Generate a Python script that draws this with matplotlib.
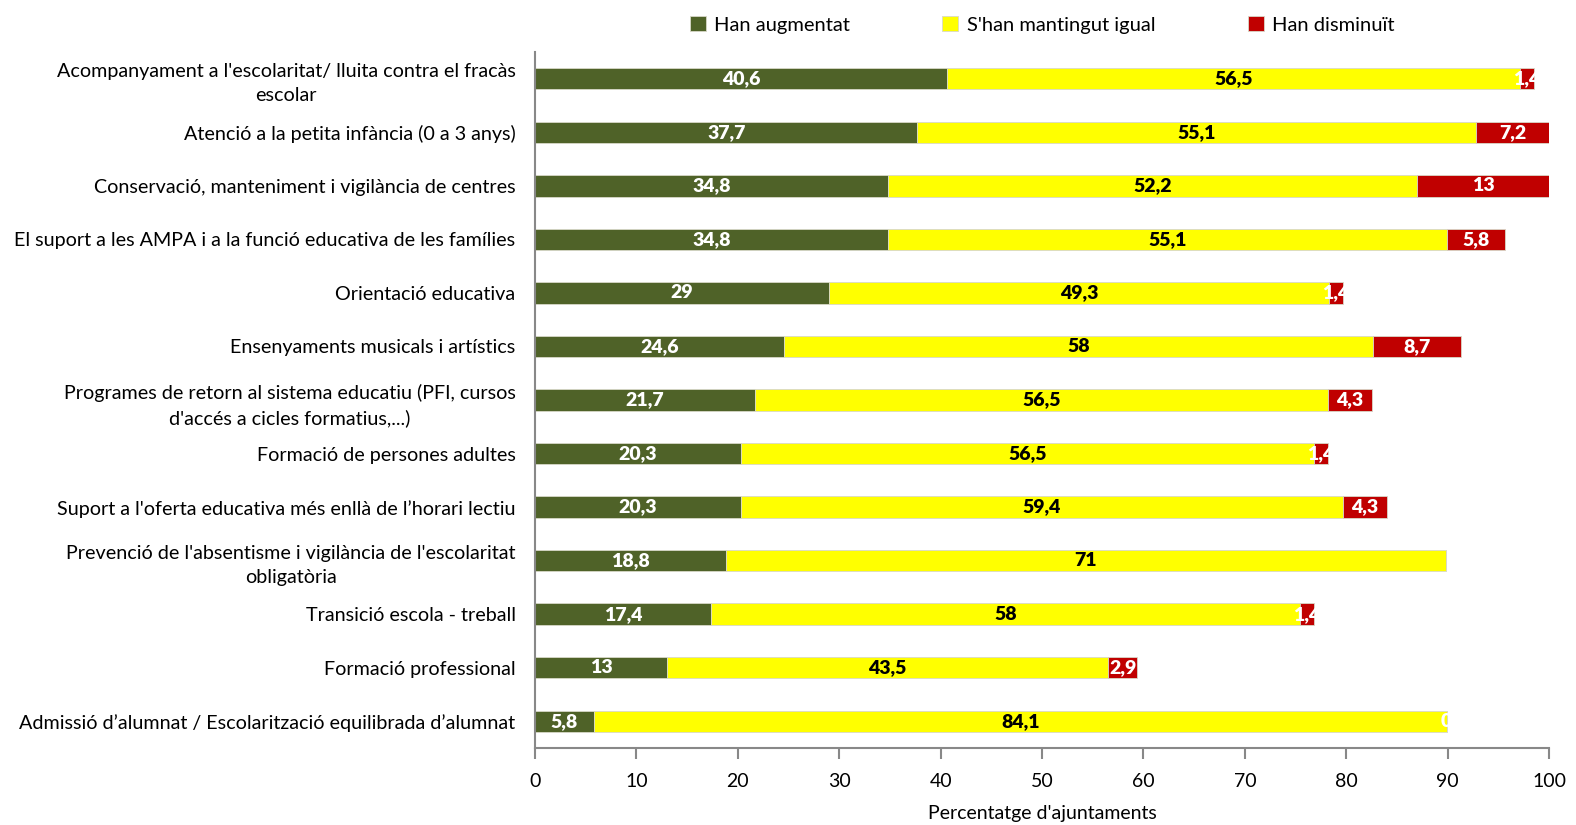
import matplotlib
matplotlib.use("Agg")
import matplotlib.pyplot as plt
import numpy as np

plt.rcParams['font.family'] = ['Lato', 'DejaVu Sans']

categories = [
    "Acompanyament a l'escolaritat/ lluita contra el fracàs\nescolar",
    "Atenció a la petita infància (0 a 3 anys)",
    "Conservació, manteniment i vigilància de centres",
    "El suport a les AMPA i a la funció educativa de les famílies",
    "Orientació educativa",
    "Ensenyaments musicals i artístics",
    "Programes de retorn al sistema educatiu (PFI, cursos\nd'accés a cicles formatius,...)",
    "Formació de persones adultes",
    "Suport a l'oferta educativa més enllà de l\u2019horari lectiu",
    "Prevenció de l'absentisme i vigilància de l'escolaritat\nobligatòria",
    "Transició escola - treball",
    "Formació professional",
    "Admissió d\u2019alumnat / Escolarització equilibrada d\u2019alumnat",
]
augmentat = [40.6, 37.7, 34.8, 34.8, 29, 24.6, 21.7, 20.3, 20.3, 18.8, 17.4, 13, 5.8]
igual = [56.5, 55.1, 52.2, 55.1, 49.3, 58, 56.5, 56.5, 59.4, 71, 58, 43.5, 84.1]
disminuit = [1.4, 7.2, 13, 5.8, 1.4, 8.7, 4.3, 1.4, 4.3, np.nan, 1.4, 2.9, 0]
series_names = ["Han augmentat", "S'han mantingut igual", "Han disminuït"]

colors = ["#4F6228", "#FFFF00", "#C00000"]
text_colors = ["white", "black", "white"]

fig = plt.figure(figsize=(15.76, 8.25), dpi=100)
ax = fig.add_axes([0.3395, 0.0933, 0.6434, 0.8437])

y = np.arange(len(categories))
left = np.zeros(len(categories))
for vals, col, tcol, name in zip([augmentat, igual, disminuit], colors, text_colors, series_names):
    v = np.nan_to_num(np.array(vals, dtype=float))
    ax.barh(y, v, left=left, height=0.4, color=col, edgecolor="#d8d8c8", linewidth=0.6, label=name)
    for i, val in enumerate(vals):
        if np.isnan(val):
            continue
        txt = ("%g" % val).replace(".", ",")
        ax.text(left[i] + v[i] / 2, y[i], txt, ha="center", va="center",
                color=tcol, fontsize=14, fontweight="heavy")
    left = left + v

ax.set_ylim(len(categories) - 0.5, -0.5)
ax.set_xlim(0, 100)
ax.set_yticks(y)
ax.set_yticklabels(categories, fontsize=14.2, ha="right", multialignment="center", linespacing=1.5)
ax.tick_params(axis="y", length=0, pad=14)
ax.set_xticks(np.arange(0, 101, 10))
ax.tick_params(axis="x", labelsize=14, length=8, color="#888888", width=1.5, pad=10)
ax.set_xlabel("Percentatge d'ajuntaments", fontsize=14, labelpad=11)

for s in ["top", "right"]:
    ax.spines[s].set_visible(False)
for s in ["left", "bottom"]:
    ax.spines[s].set_color("#888888")
    ax.spines[s].set_linewidth(1.5)

ax.legend(loc="upper center", bbox_to_anchor=(0.5, 1.078), ncol=3, frameon=False,
          fontsize=14.5, handlelength=0.8, handleheight=0.8, columnspacing=4.6, handletextpad=0.4)

fig.savefig("out.png", dpi=100)
